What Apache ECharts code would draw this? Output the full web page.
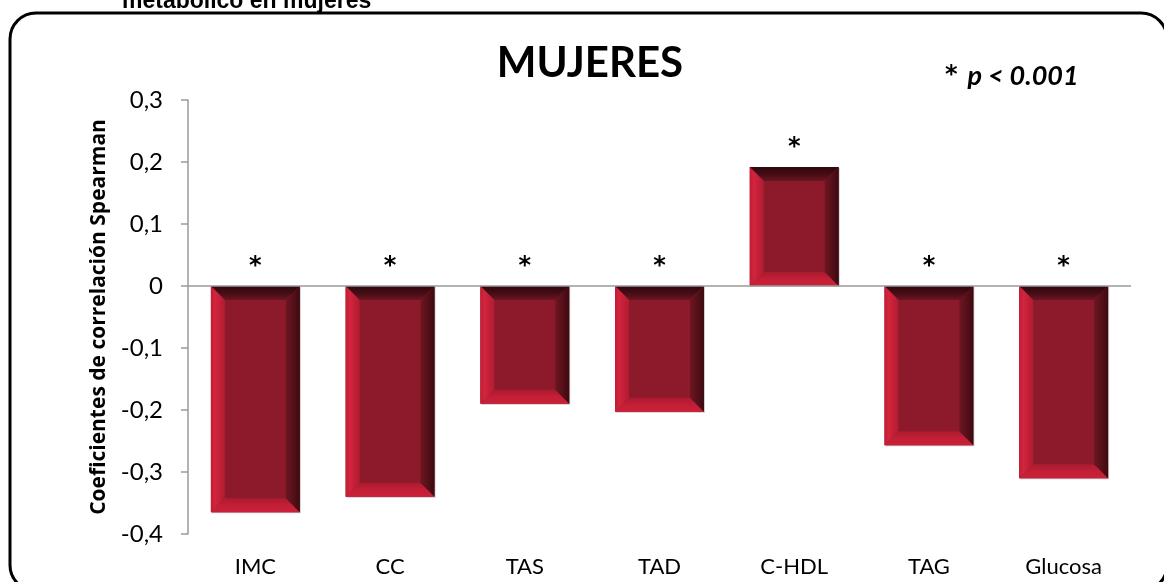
<!DOCTYPE html>
<html>
<head>
<meta charset="utf-8">
<script src="https://cdn.jsdelivr.net/npm/echarts@6/dist/echarts.min.js"></script>
<style>
  html, body { margin: 0; padding: 0; background: #ffffff; }
  #chart { width: 1164px; height: 582px; }
</style>
</head>
<body>
<div id="chart"></div>
<script>
// Spearman correlation coefficients by cardiometabolic variable (women)
const categories = ['IMC', 'CC', 'TAS', 'TAD', 'C-HDL', 'TAG', 'Glucosa'];
const spearman = [-0.365, -0.34, -0.19, -0.203, 0.192, -0.257, -0.31];
const significance = ['*', '*', '*', '*', '*', '*', '*'];
const yMin = -0.4;
const yMax = 0.3;
const yStep = 0.1;

const FONT = 'Lato, "Open Sans", sans-serif';
const STAR_FONT = '"DejaVu Sans", Lato, sans-serif';

function tickLabel(v) {
  if (Math.abs(v) < 1e-9) return '0';
  return v.toFixed(1).replace('.', ',');
}

// Bevelled bar: a flat centre face framed by four shaded trapezoids
function renderBevelBar(params, api) {
  const i = api.value(0);
  const v = api.value(1);
  const base = api.coord([i, 0]);
  const tip = api.coord([i, v]);
  const w = api.size([1, 0])[0] * 0.66;
  const x0 = base[0] - w / 2, x1 = base[0] + w / 2;
  const yTop = Math.min(base[1], tip[1]);
  const yBot = Math.max(base[1], tip[1]);
  const h = yBot - yTop;
  const b = Math.min(14, h / 2, w / 2);
  const ix0 = x0 + b, ix1 = x1 - b, iy0 = yTop + b, iy1 = yBot - b;

  const grad = (x, y, x2, y2, stops) => ({
    type: 'linear', x: x, y: y, x2: x2, y2: y2,
    colorStops: stops.map(s => ({ offset: s[0], color: s[1] }))
  });

  return {
    type: 'group',
    children: [
      { type: 'rect', shape: { x: x0 + 1, y: yTop + 1, width: w, height: h },
        style: { fill: 'rgba(120,100,100,0.35)' } },
      { type: 'rect', shape: { x: x0, y: yTop, width: w, height: h },
        style: { fill: '#8C1A2A' } },
      { type: 'polygon', shape: { points: [[x0, yTop], [x1, yTop], [ix1, iy0], [ix0, iy0]] },
        style: { fill: grad(0, 0, 0, 1, [[0, '#2e070c'], [0.5, '#450c14'], [1, '#6a1622']]) } },
      { type: 'polygon', shape: { points: [[x0, yBot], [ix0, iy1], [ix1, iy1], [x1, yBot]] },
        style: { fill: grad(0, 0, 0, 1, [[0, '#a81b2f'], [0.5, '#c41f36'], [1, '#c92139']]) } },
      { type: 'polygon', shape: { points: [[x0, yTop], [ix0, iy0], [ix0, iy1], [x0, yBot]] },
        style: { fill: grad(0, 0, 1, 0, [[0, '#c01d34'], [0.3, '#d4243e'], [1, '#b01b31']]) } },
      { type: 'polygon', shape: { points: [[x1, yTop], [x1, yBot], [ix1, iy1], [ix1, iy0]] },
        style: { fill: grad(0, 0, 1, 0, [[0, '#6e1621'], [0.6, '#520f18'], [1, '#3a0a10']]) } },
      { type: 'text', x: base[0], y: yTop - 19,
        style: { text: significance[i], fill: '#000', font: 'bold 24px ' + STAR_FONT,
                 align: 'center', verticalAlign: 'middle' } }
    ]
  };
}

const chart = echarts.init(document.getElementById('chart'), null, { renderer: 'canvas' });

chart.setOption({
  animation: false,
  backgroundColor: '#ffffff',
  grid: { left: 188, right: 33, top: 100, bottom: 48 },
  xAxis: {
    type: 'category',
    data: categories,
    axisLine: { show: false, onZero: false },
    axisTick: { show: false },
    axisLabel: { color: '#000', fontFamily: FONT, fontSize: 22, margin: 22 },
    splitLine: { show: false }
  },
  yAxis: {
    type: 'value',
    min: yMin,
    max: yMax,
    interval: yStep,
    name: 'Coeficientes de correlación Spearman',
    nameLocation: 'middle',
    nameRotate: 90,
    nameGap: 78,
    nameTextStyle: { color: '#000', fontFamily: '"Open Sans", Lato, sans-serif', fontSize: 21, fontWeight: 'bold' },
    axisLine: { show: true, lineStyle: { color: '#9a9a9a', width: 1.5 } },
    axisTick: { show: true, length: 7, lineStyle: { color: '#9a9a9a', width: 1.5 } },
    axisLabel: { color: '#000', fontFamily: FONT, fontSize: 24, margin: 25, formatter: tickLabel },
    splitLine: { show: false }
  },
  series: [{
    type: 'custom',
    renderItem: renderBevelBar,
    data: spearman.map((v, i) => [i, v]),
    encode: { x: 0, y: 1 },
    markLine: {
      silent: true,
      symbol: 'none',
      label: { show: false },
      lineStyle: { color: '#9a9a9a', type: 'solid', width: 1.5 },
      data: [{ yAxis: 0 }]
    }
  }],
  graphic: [
    { type: 'rect', shape: { x: 10, y: 13, width: 1157, height: 578, r: 26 },
      style: { fill: 'none', stroke: '#000', lineWidth: 3 } },
    { type: 'text', x: 122, y: 13,
      style: { text: 'metabólico en mujeres', fill: '#000',
               font: 'bold 23px "Liberation Sans", Arial, sans-serif',
               align: 'left', verticalAlign: 'bottom' } },
    { type: 'text', x: 590, y: 63,
      style: { text: 'MUJERES', fill: '#000', font: 'bold 42px ' + FONT,
               align: 'center', verticalAlign: 'middle' } },
    { type: 'text', x: 945, y: 76,
      style: {
        text: '{a|*}   {b|p < 0.001}',
        align: 'left', verticalAlign: 'middle',
        rich: {
          a: { fontFamily: STAR_FONT, fontSize: 24, fontWeight: 'bold', color: '#000' },
          b: { fontFamily: FONT, fontSize: 27, fontWeight: 'bold', fontStyle: 'italic', color: '#000' }
        }
      } }
  ]
});
</script>
</body>
</html>
